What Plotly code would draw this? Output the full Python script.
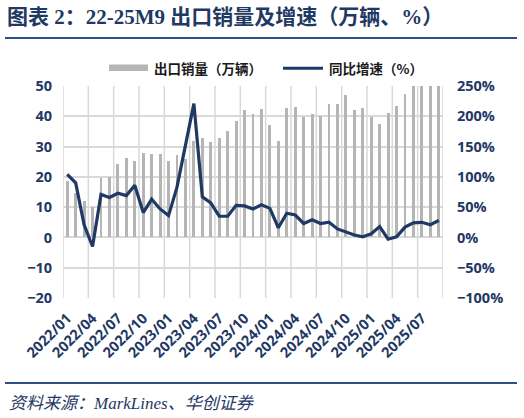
import plotly.graph_objects as go

# months 2022/01 .. 2025/09
months = [f"{y}/{m:02d}" for y in range(2022, 2026) for m in range(1, 13)][:45]

# 出口销量（万辆） - last four bars run past the 50 top of the axis
sales = [18.6, 14.8, 12.1, 10.0, 19.7, 19.9, 24.3, 26.1, 25.2, 28.0, 27.6, 27.6,
         25.2, 27.3, 26.0, 31.8, 32.7, 31.5, 32.8, 35.1, 38.4, 42.2, 40.9, 42.4,
         37.1, 31.7, 42.6, 43.2, 39.9, 40.6, 40.0, 44.1, 44.1, 46.9, 42.1, 42.9,
         39.7, 37.3, 41.2, 43.3, 47.2, 53.0, 54.5, 56.0, 59.0]

# 同比增速（%）
growth = [104, 90, 21, -15, 71, 66, 73, 69, 86, 41, 63, 47,
          36, 83, 152, 221, 67, 57, 35, 35, 53, 52, 47, 54,
          48, 16, 40, 37, 23, 29, 23, 25, 14, 9, 4, 1,
          6, 18, -3, 1, 17, 24, 25, 21, 28]

tick_idx = list(range(0, len(months), 3))
tick_text = [months[i] for i in tick_idx]
grid_pos = [i - 0.5 for i in range(0, len(months) + 1, 3)]

W, H = 524, 418
L, R, T, B = 63, 81, 86, 120
navy = "#1F3864"
grid = "#D9D9D9"


def px_x(p):
    return (p - L) / (W - L - R)


def px_y(p):
    return (H - B - p) / (H - T - B)


x = list(range(len(months)))

fig = go.Figure()
fig.add_trace(go.Bar(x=x, y=sales, name="出口销量（万辆）", marker_color="#B5B5B5",
                     marker_line_width=0, width=0.34, showlegend=False))
fig.add_trace(go.Scatter(x=x, y=growth, name="同比增速（%）", yaxis="y2", mode="lines",
                         line=dict(color=navy, width=3.2), showlegend=False))

tick_font = dict(family="Open Sans", size=14.5, color=navy, weight="bold")

# vertical gridlines on the 3-month boundaries
vgrid = [dict(type="line", xref="x", yref="paper", x0=g, x1=g, y0=0, y1=1,
              layer="below", line=dict(color=grid, width=1.5)) for g in grid_pos]

fig.update_layout(
    width=W, height=H,
    margin=dict(l=L, r=R, t=T, b=B),
    paper_bgcolor="white", plot_bgcolor="white",
    title=dict(text="图表 2：22-25M9 出口销量及增速（万辆、%）",
               x=7 / W, xanchor="left", xref="container",
               y=1 - 17 / H, yanchor="middle", yref="container",
               font=dict(family="Liberation Serif, Noto Sans CJK SC", size=21,
                         color=navy, weight="bold")),
    xaxis=dict(range=[-0.5, len(months) - 0.5], tickmode="array", tickvals=tick_idx,
               ticktext=tick_text, tickangle=-45, tickfont=tick_font, showgrid=False,
               zeroline=False, ticks="", ticklabelstandoff=8),
    yaxis=dict(range=[-20, 50], dtick=10, tickfont=tick_font, gridcolor=grid,
               gridwidth=1.5, zeroline=False, ticklabelstandoff=10),
    yaxis2=dict(range=[-100, 250], dtick=50, ticksuffix="%", overlaying="y", side="right",
                tickfont=tick_font, showgrid=False, zeroline=False, ticklabelstandoff=13),
    bargap=0,
    shapes=vgrid + [
        dict(type="line", xref="paper", yref="paper", x0=px_x(5), x1=px_x(517),
             y0=px_y(38), y1=px_y(38), line=dict(color="#2E4F8A", width=2)),
        dict(type="line", xref="paper", yref="paper", x0=px_x(5), x1=px_x(517),
             y0=px_y(383), y1=px_y(383), line=dict(color="#2E4F8A", width=2)),
        dict(type="rect", xref="paper", yref="paper", x0=px_x(109), x1=px_x(148),
             y0=px_y(71), y1=px_y(64.5), fillcolor="#B5B5B5", line_width=0),
        dict(type="line", xref="paper", yref="paper", x0=px_x(283), x1=px_x(323),
             y0=px_y(68.3), y1=px_y(68.3), line=dict(color=navy, width=3)),
    ],
    annotations=[
        dict(text="出口销量（万辆）", xref="paper", yref="paper", x=px_x(152), y=px_y(68),
             xanchor="left", yanchor="middle", showarrow=False,
             font=dict(family="Noto Sans CJK SC", size=13.5, color="#1A1A1A", weight="bold")),
        dict(text="同比增速（%）", xref="paper", yref="paper", x=px_x(327), y=px_y(68),
             xanchor="left", yanchor="middle", showarrow=False,
             font=dict(family="Noto Sans CJK SC", size=13.5, color="#1A1A1A", weight="bold")),
        dict(text="<i>资料来源：MarkLines、华创证券</i>", xref="paper", yref="paper",
             x=px_x(7), y=px_y(403), xanchor="left", yanchor="middle", showarrow=False,
             font=dict(family="Liberation Serif, Noto Sans CJK SC", size=17, color=navy)),
    ],
)

fig.write_html("out.html", config={"displayModeBar": False},
               post_script="document.body.style.margin='0';")
